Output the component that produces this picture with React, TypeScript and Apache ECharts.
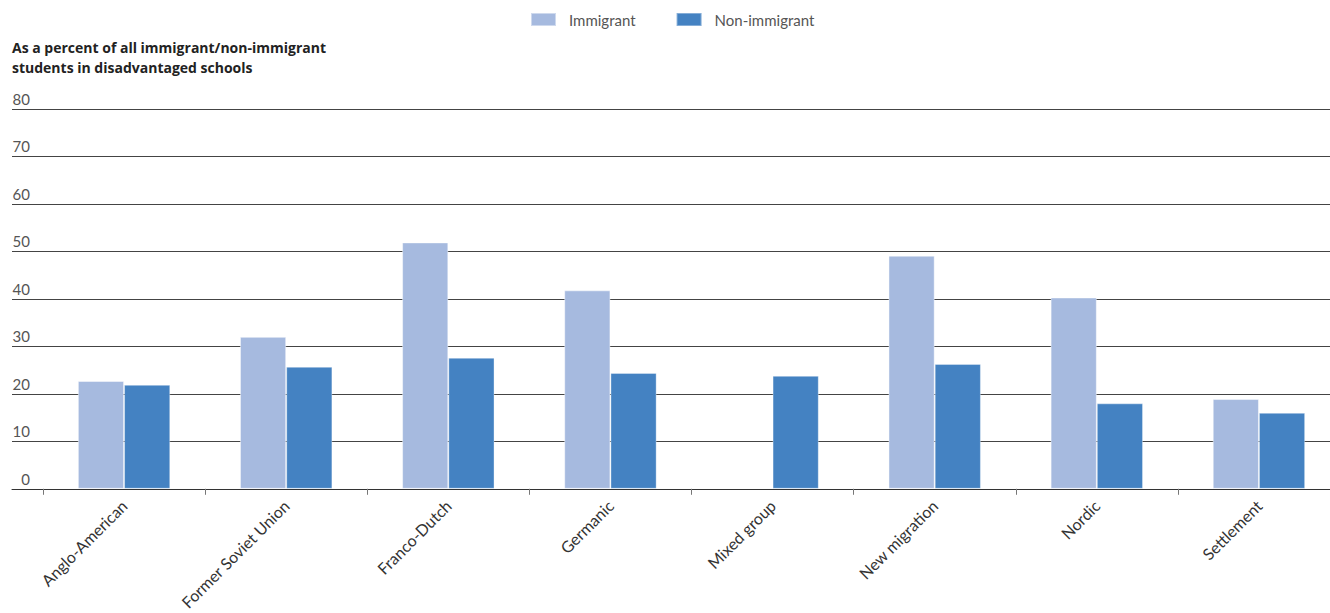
import React, { useEffect, useRef } from "react";
import * as echarts from "echarts";

const categories = [
  "Anglo-American",
  "Former Soviet Union",
  "Franco-Dutch",
  "Germanic",
  "Mixed group",
  "New migration",
  "Nordic",
  "Settlement",
];
const immigrant: (number | null)[] = [22.7, 32.0, 51.9, 41.8, null, 49.1, 40.3, 18.9];
const nonImmigrant = [21.9, 25.7, 27.6, 24.4, 23.8, 26.3, 18.0, 16.0];
const yTicks = { min: 0, max: 80, interval: 10 };
const titleLines = [
  "As a percent of all immigrant/non-immigrant",
  "students in disadvantaged schools",
];

const FONT = "Lato, 'Open Sans', sans-serif";

export default function App() {
  const ref = useRef<HTMLDivElement>(null);
  useEffect(() => {
    if (!ref.current) return;
    const chart = echarts.init(ref.current, null, { renderer: "svg" });
    const gridTop = 109;
    const gridBottom = 613 - 489;
    chart.setOption({
      animation: false,
      textStyle: { fontFamily: FONT },
      title: {
        text: titleLines.join("\n"),
        left: 12,
        top: 37,
        padding: 0,
        textStyle: {
          fontFamily: "'Open Sans', Lato, sans-serif",
          fontSize: 14,
          fontWeight: "bold",
          color: "#222",
          lineHeight: 20,
        },
      },
      legend: {
        left: 530,
        top: 12,
        padding: 0,
        itemWidth: 25,
        itemHeight: 13,
        itemGap: 40,
        icon: "rect",
        textStyle: {
          fontFamily: FONT,
          fontSize: 15,
          color: "#555",
          padding: [0, 0, 0, 8],
        },
        data: ["Immigrant", "Non-immigrant"],
      },
      grid: [
        { left: 43, right: 10, top: gridTop, bottom: gridBottom },
        { left: 12, width: 31, top: gridTop, bottom: gridBottom },
      ],
      xAxis: [
        {
          type: "category",
          gridIndex: 0,
          data: categories,
          axisLine: { show: true, lineStyle: { color: "#333", width: 1 } },
          axisTick: { show: true, length: 6, lineStyle: { color: "#777" } },
          axisLabel: {
            interval: 0,
            rotate: 45,
            margin: 14,
            fontFamily: FONT,
            fontSize: 16,
            color: "#333",
          },
        },
        {
          type: "category",
          gridIndex: 1,
          data: [""],
          axisLine: { show: true, lineStyle: { color: "#333", width: 1 } },
          axisTick: { show: false },
          axisLabel: { show: false },
        },
      ],
      yAxis: [
        {
          type: "value",
          gridIndex: 0,
          ...yTicks,
          axisLine: { show: false },
          axisTick: { show: false },
          axisLabel: { show: false },
          splitLine: { show: true, lineStyle: { color: "#444", width: 1 } },
        },
        {
          type: "value",
          gridIndex: 1,
          ...yTicks,
          axisLine: { show: false },
          axisTick: { show: false },
          axisLabel: {
            inside: true,
            align: "right",
            verticalAlign: "bottom",
            margin: 18,
            padding: [0, 0, 3, 0],
            fontFamily: FONT,
            fontSize: 15,
            color: "#555",
          },
          splitLine: { show: true, lineStyle: { color: "#444", width: 1 } },
        },
      ],
      series: [
        {
          name: "Immigrant",
          type: "bar",
          xAxisIndex: 0,
          yAxisIndex: 0,
          data: immigrant,
          barGap: "0%",
          barCategoryGap: "43%",
          itemStyle: {
            color: "#a6badf",
            borderColor: "rgba(255,255,255,0.45)",
            borderWidth: 1,
          },
        },
        {
          name: "Non-immigrant",
          type: "bar",
          xAxisIndex: 0,
          yAxisIndex: 0,
          data: nonImmigrant,
          barGap: "0%",
          barCategoryGap: "43%",
          itemStyle: {
            color: "#4482c2",
            borderColor: "rgba(255,255,255,0.35)",
            borderWidth: 1,
          },
        },
      ],
    });
    return () => chart.dispose();
  }, []);
  return (
    <div
      ref={ref}
      style={{ position: "fixed", left: 0, top: 0, width: 1350, height: 613, background: "#fff" }}
    />
  );
}
